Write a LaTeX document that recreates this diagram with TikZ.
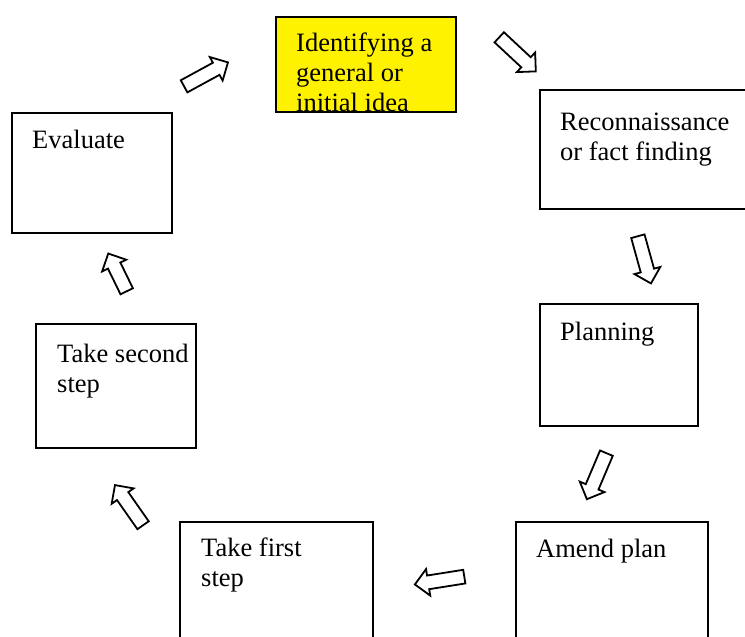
\documentclass[tikz,border=0pt]{standalone}
\usepackage{fontspec}
\setmainfont{Liberation Serif}
\usetikzlibrary{shapes.arrows}

\tikzset{
  stagebox/.style={draw=black, line width=1.6pt, rectangle, inner sep=0pt, anchor=north west},
  stagetext/.style={anchor=north west, inner sep=0pt, align=left,
    font=\fontsize{26.5}{30}\selectfont},
  flowarrow/.style={single arrow, draw=black, fill=white, line width=1.8pt,
    inner sep=6pt, single arrow head extend=6.5pt, anchor=center},
}

\begin{document}
\begin{tikzpicture}[x=1pt, y=-1pt]
  \useasboundingbox (0,0) rectangle (745,637);
  \clip (0,0) rectangle (745,637);

  % stage boxes (pixel-like coordinates, y grows downwards)
  \node[stagebox, fill=yellow, minimum width=180pt, minimum height=95pt] (ident) at (275,16) {};
  \node[stagebox, minimum width=215pt, minimum height=119pt] (recon) at (539,89) {};
  \node[stagebox, minimum width=158pt, minimum height=122pt] (plan) at (539,303) {};
  \node[stagebox, minimum width=192pt, minimum height=140pt] (amend) at (515,521) {};
  \node[stagebox, minimum width=193pt, minimum height=140pt] (first) at (179,521) {};
  \node[stagebox, minimum width=160pt, minimum height=124pt] (second) at (35,323) {};
  \node[stagebox, minimum width=160pt, minimum height=120pt] (eval) at (11,112) {};

  % stage labels
  \node[stagetext] (identtxt) at ([shift={(21,16.5)}]ident.north west) {Identifying a\\general or\\initial idea};
  \node[stagetext] (recontxt) at ([shift={(21,23.5)}]recon.north west) {Reconnaissance\\or fact finding};
  \node[stagetext] (plantxt) at ([shift={(21,19)}]plan.north west) {Planning};
  \node[stagetext] (amendtxt) at ([shift={(21,17.5)}]amend.north west) {Amend plan};
  \node[stagetext] (firsttxt) at ([shift={(22,16.5)}]first.north west) {Take first\\step};
  \node[stagetext] (secondtxt) at ([shift={(22,21)}]second.north west) {Take second\\step};
  \node[stagetext] (evaltxt) at ([shift={(21,17.5)}]eval.north west) {Evaluate};

  % block arrows between the stages
  \node[flowarrow, minimum height=50pt, rotate=28.6] (a1) at (203,76) {};
  \node[flowarrow, minimum height=50pt, rotate=-43] (a2) at (515,52) {};
  \node[flowarrow, minimum height=49pt, rotate=-74.5] (a3) at (643.5,256.5) {};
  \node[flowarrow, minimum height=50pt, rotate=-113] (a4) at (598,473) {};
  \node[flowarrow, minimum height=50pt, rotate=189] (a5) at (443,580) {};
  \node[flowarrow, minimum height=49pt, rotate=125] (a6) at (131,508) {};
  \node[flowarrow, minimum height=42pt, rotate=116] (a7) at (119,275.5) {};
\end{tikzpicture}
\end{document}
